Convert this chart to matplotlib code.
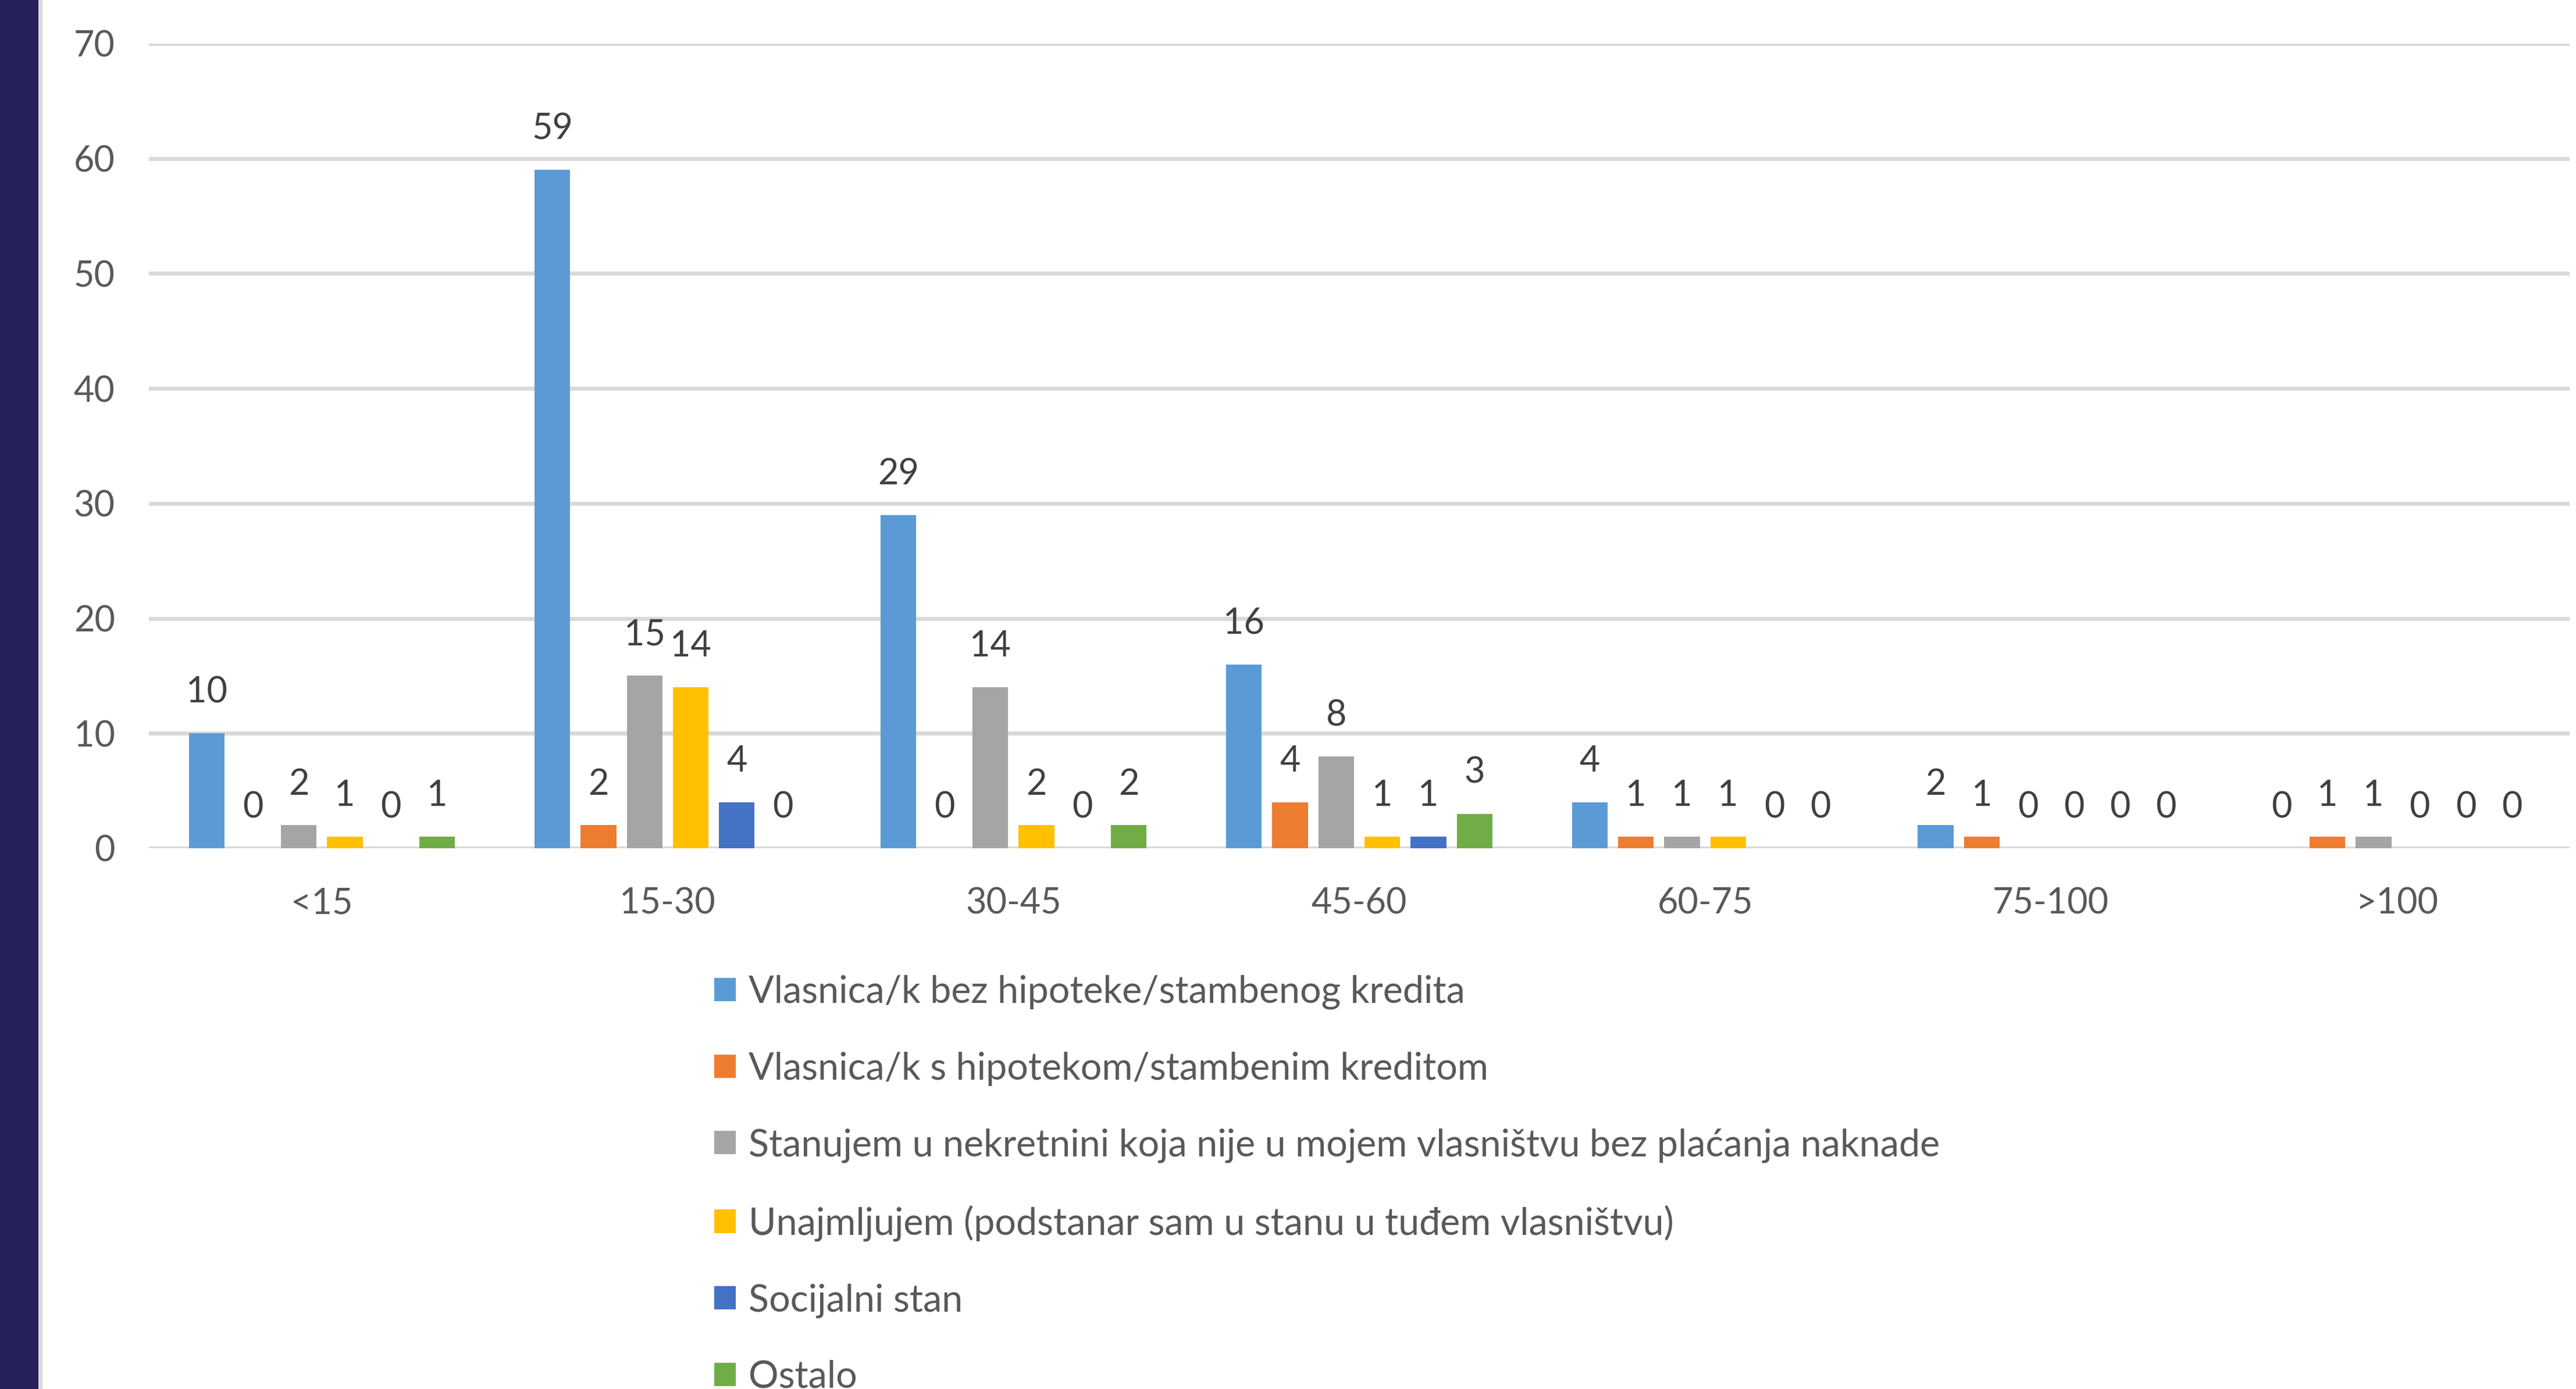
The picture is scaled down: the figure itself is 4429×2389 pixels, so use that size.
import numpy as np
import matplotlib
matplotlib.use("Agg")
import matplotlib.pyplot as plt
from matplotlib.patches import Rectangle

plt.rcParams["font.family"] = ["Lato", "DejaVu Sans"]

# ── data ─────────────────────────────────────────────
categories = ["<15", "15-30", "30-45", "45-60", "60-75", "75-100", ">100"]

series_names = [
    "Vlasnica/k bez hipoteke/stambenog kredita",
    "Vlasnica/k s hipotekom/stambenim kreditom",
    "Stanujem u nekretnini koja nije u mojem vlasništvu bez plaćanja naknade",
    "Unajmljujem (podstanar sam u stanu u tuđem vlasništvu)",
    "Socijalni stan",
    "Ostalo",
]

bez_hipoteke = [10, 59, 29, 16, 4, 2, 0]
s_hipotekom  = [0, 2, 0, 4, 1, 1, 1]
bez_naknade  = [2, 15, 14, 8, 1, 0, 1]
unajmljujem  = [1, 14, 2, 1, 1, 0, 0]
socijalni    = [0, 4, 0, 1, 0, 0, 0]
ostalo       = [1, 0, 2, 3, 0, 0, 0]

values = [bez_hipoteke, s_hipotekom, bez_naknade, unajmljujem, socijalni, ostalo]
colors = ["#5B9BD5", "#ED7D31", "#A5A5A5", "#FFC000", "#4472C4", "#70AD47"]

# ── figure ───────────────────────────────────────────
W, H, DPI = 4429, 2389, 100
fig = plt.figure(figsize=(W / DPI, H / DPI), dpi=DPI)
fig.patch.set_facecolor("white")

# navy side strip with a thin grey edge
fig.patches.append(Rectangle((0, 0), 66 / W, 1, transform=fig.transFigure,
                             facecolor="#25205A", edgecolor="none", zorder=0))
fig.patches.append(Rectangle((66 / W, 0), 7 / W, 1, transform=fig.transFigure,
                             facecolor="#D9D9D9", edgecolor="none", zorder=0))

ax = fig.add_axes([256 / W, 1 - 1459 / H, (4418 - 256) / W, (1459 - 75) / H])

x = np.arange(len(categories))
pitch = 0.1333
width = 0.103
FS = 44

handles = []
for j, (vals, col, name) in enumerate(zip(values, colors, series_names)):
    pos = x + (j - 2.5) * pitch
    bars = ax.bar(pos, vals, width=width, color=col, label=name, zorder=3)
    handles.append(bars)
    for p, v in zip(pos, vals):
        ax.annotate(str(v), (p, v), xytext=(0, 38), textcoords="offset points",
                    ha="center", va="baseline", fontsize=FS, color="#404040")

ax.set_xlim(-0.5, len(categories) - 0.5)
ax.set_ylim(0, 70)
ax.set_yticks(np.arange(0, 71, 10))
ax.set_xticks(x)
ax.set_xticklabels(categories)
ax.yaxis.grid(True, color="#D9D9D9", linewidth=5, zorder=0)
ax.set_axisbelow(True)
for s in ax.spines.values():
    s.set_visible(False)
ax.tick_params(axis="both", length=0, labelsize=FS, labelcolor="#595959")
ax.tick_params(axis="y", pad=42)
ax.tick_params(axis="x", pad=48)

fig.legend(handles=handles, labels=series_names, loc="upper left",
           bbox_to_anchor=(1228 / W, 1 - 1677 / H), ncol=1, frameon=False,
           fontsize=46.5, labelcolor="#595959", borderpad=0, borderaxespad=0,
           handlelength=0.58, handleheight=0.58, handletextpad=0.33,
           labelspacing=1.12)

fig.savefig("out.png", dpi=DPI)
